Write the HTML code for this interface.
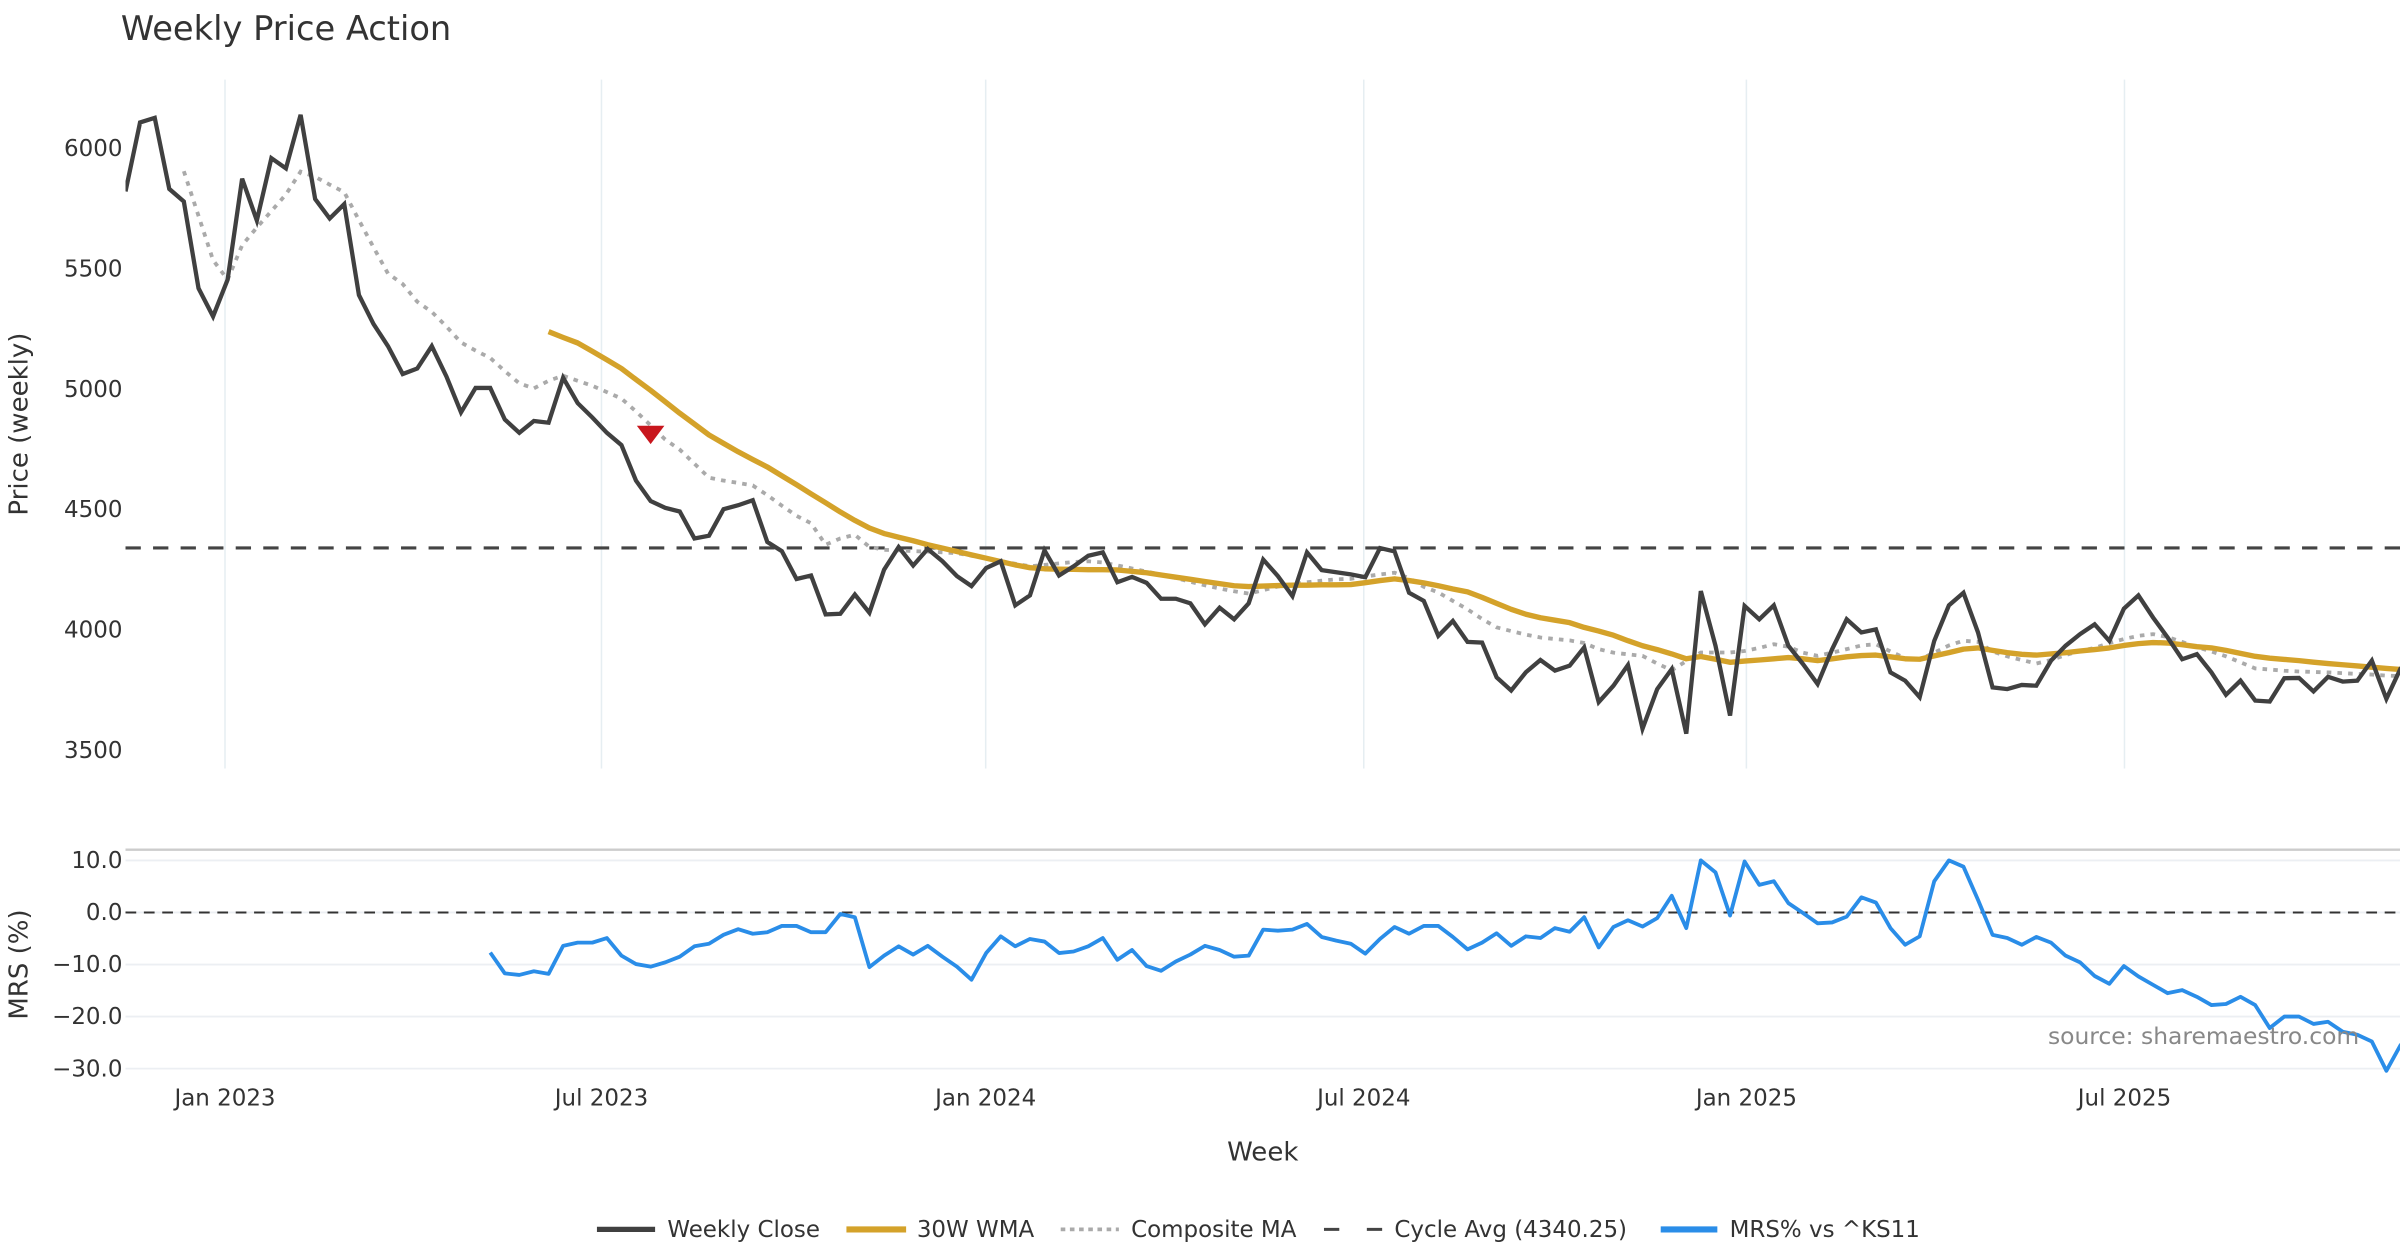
<!DOCTYPE html>
<html><head><meta charset="utf-8"><title>Weekly Price Action</title>
<style>
html,body{margin:0;padding:0;background:#fff;}
svg{display:block;font-family:"DejaVu Sans","Liberation Sans",sans-serif;}
</style></head>
<body>
<svg id="chart" width="2400" height="1260" viewBox="0 0 1568 823" preserveAspectRatio="none" xmlns="http://www.w3.org/2000/svg">
<defs>
<clipPath id="clipTop"><rect x="82" y="40" width="1486" height="470"/></clipPath>
<clipPath id="clipBot"><rect x="82" y="550" width="1486" height="160"/></clipPath>
</defs>
<text x="79" y="26" font-size="22" fill="#333">Weekly Price Action</text>
<g id="gridTop"></g>
<g id="gridBot"></g>
<line x1="82" y1="555" x2="1568" y2="555" stroke="#cccccc" stroke-width="1.5"/>
<g id="axesTop"></g>
<g id="axesBot"></g>
<g id="xAxis"></g>
<g id="series" clip-path="url(#clipTop)"></g>
<g id="seriesBot" clip-path="url(#clipBot)"></g>
<text transform="translate(18,277) rotate(-90)" text-anchor="middle" font-size="17" fill="#333">Price (weekly)</text>
<text transform="translate(18,630) rotate(-90)" text-anchor="middle" font-size="17" fill="#333">MRS (%)</text>
<text x="825" y="758" text-anchor="middle" font-size="17" fill="#333">Week</text>
<text x="1338" y="682" font-size="15.3" fill="#888">source: sharemaestro.com</text>
<g id="legend">
  <g>
    <line x1="390" y1="803" x2="428" y2="803" stroke="#404040" stroke-width="3.5"/>
    <text x="436" y="808" font-size="15" fill="#333">Weekly Close</text>
  </g>
  <g>
    <line x1="553" y1="803" x2="592" y2="803" stroke="#D4A22A" stroke-width="4"/>
    <text x="599" y="808" font-size="15" fill="#333">30W WMA</text>
  </g>
  <g>
    <line x1="693" y1="803" x2="731" y2="803" stroke="#aaaaaa" stroke-width="2.5" stroke-dasharray="3 3"/>
    <text x="739" y="808" font-size="15" fill="#333">Composite MA</text>
  </g>
  <g>
    <line x1="865" y1="803" x2="903" y2="803" stroke="#444" stroke-width="2" stroke-dasharray="10 18"/>
    <text x="911" y="808" font-size="15" fill="#333">Cycle Avg (4340.25)</text>
  </g>
  <g>
    <line x1="1085" y1="803" x2="1122" y2="803" stroke="#2A8DE8" stroke-width="4"/>
    <text x="1130" y="808" font-size="15" fill="#333">MRS% vs ^KS11</text>
  </g>
</g>
</svg>
<script>
const NS = "http://www.w3.org/2000/svg";
const closeValues = [5822,6108,6127,5832,5780,5419,5302,5455,5875,5701,5960,5917,6140,5790,5709,5769,5391,5271,5179,5063,5086,5179,5052,4904,5005,5005,4874,4819,4868,4861,5048,4942,4882,4819,4768,4620,4535,4507,4492,4380,4391,4501,4518,4539,4365,4327,4211,
4226,4064,4067,4147,4071,4250,4344,4267,4336,4285,4223,4182,4257,4285,4102,4143,4330,4226,4264,4308,4322,4198,4220,4195,4129,4129,4110,4023,4092,4044,4110,4292,4223,4140,4322,4248,4239,4230,4219,4340,4326,4154,4120,3975,4037,3950,3947,3803,3748,3824,3875,3831,3851,3927,
3700,3768,3854,3589,3754,3837,3569,4161,3934,3644,4099,4044,4102,3934,3858,3775,3920,4044,3989,4002,3823,3789,3720,3954,4102,4154,3989,3761,3754,3771,3768,3872,3934,3982,4023,3954,4088,4143,4051,3968,3878,3899,3823,3730,3789,3706,3702,3799,3800,3744,3805,3785,3789,3872,3713,3844];
const wmaStart = 29;
const wmaValues = [5239,5215,5192,5157,5122,5086,5040,4995,4948,4900,4855,4810,4775,4740,4708,4677,4640,4603,4565,4528,4490,4455,4423,4400,4385,4370,4354,4340,4326,4312,4298,4284,4270,4258,4254,4252,4251,4250,4250,4249,4243,4237,4228,4219,4210,4201,4192,4183,4180,4182,4184,4186,4186,4187,4187,4188,4196,4205,4212,4205,4195,4183,4170,4158,4135,4110,4085,4065,4050,4040,4030,4010,3995,3978,3955,3934,3918,3900,3880,3889,3878,3865,3870,3875,3880,3885,3880,3872,3880,3888,3893,3895,3888,3880,3878,3892,3905,3920,3925,3915,3905,3898,3895,3900,3905,3912,3918,3925,3935,3943,3947,3945,3938,3930,3925,3915,3902,3890,3882,3877,3872,3866,3860,3855,3850,3845,3840,3835];
const compStart = 4;
const compValues = [5906,5720,5536,5455,5598,5672,5740,5809,5904,5882,5850,5819,5702,5590,5480,5437,5363,5321,5260,5194,5160,5130,5075,5024,5003,5035,5056,5035,5014,4988,4961,4908,4850,4791,4749,4690,4632,4620,4611,4600,4560,4516,4474,4443,4354,4380,4395,4345,4333,4330,4327,4325,4322,4319,4308,4297,4286,4275,4264,4270,4276,4282,4285,4280,4268,4255,4242,4230,4215,4200,4185,4172,4160,4151,4165,4180,4190,4198,4204,4210,4212,4222,4230,4237,4215,4179,4155,4120,4085,4045,4010,3995,3980,3968,3962,3956,3945,3920,3905,3898,3892,3860,3832,3870,3906,3906,3906,3912,3925,3940,3930,3905,3892,3905,3920,3935,3940,3910,3882,3878,3905,3935,3955,3950,3910,3890,3875,3860,3875,3895,3912,3925,3945,3962,3975,3982,3970,3950,3928,3910,3890,3865,3840,3835,3830,3827,3825,3823,3820,3817,3814,3810,3808];
const mrsStart = 25;
const mrsValues = [-7.7,-11.7,-12.0,-11.3,-11.8,-6.4,-5.8,-5.8,-4.9,-8.3,-9.9,-10.4,-9.6,-8.5,-6.5,-6.0,-4.3,-3.2,-4.1,-3.8,-2.6,-2.6,-3.8,-3.8,-0.3,-0.9,-10.5,-8.3,-6.5,-8.1,-6.4,-8.5,-10.4,-12.9,-7.8,-4.6,-6.5,-5.1,-5.6,-7.8,-7.5,-6.5,-4.9,-9.1,-7.2,-10.3,-11.2,-9.4,-8.1,-6.4,-7.2,-8.5,-8.3,-3.3,-3.5,-3.3,-2.2,-4.7,-5.4,-6.0,-7.9,-5.1,-2.8,-4.1,-2.6,-2.6,-4.7,-7.1,-5.8,-4.0,-6.4,-4.6,-4.9,-3.0,-3.7,-0.9,-6.7,-2.8,-1.5,-2.7,-1.1,3.2,-3.0,10.0,7.7,-0.6,9.8,5.3,6.0,1.8,-0.1,-2.1,-1.9,-0.8,2.9,1.9,-3.0,-6.2,-4.6,6.0,10.0,8.8,2.4,-4.3,-4.9,-6.2,-4.7,-5.8,-8.3,-9.6,-12.2,-13.7,-10.3,-12.3,-13.9,-15.5,-14.9,-16.2,-17.8,-17.6,-16.2,-17.8,-22.2,-20.0,-20.0,-21.4,-21.0,-22.9,-23.5,-24.8,-30.4,-25.3];
const cycleAvg = 4340.25;
const signalIndex = 36;
const signalPrice = 4810;
const priceTicks = [3500,4000,4500,5000,5500,6000];
const mrsTicks = [10,0,-10,-20,-30];
const mrsTickLabels = ["10.0","0.0","\u221210.0","\u221220.0","\u221230.0"];
const dateTickIdx = [6.82,32.63,58.97,84.89,111.12,137.04];
const dateTickLabels = ["Jan 2023","Jul 2023","Jan 2024","Jul 2024","Jan 2025","Jul 2025"];

const X0 = 82, DX = 9.53;
function xScale(i){ return X0 + i*DX; }
function yPrice(v){ return 97 + (6000 - v) * (393/2500); }
function yMrs(v){ return 596 - v * 3.4; }

function mk(tag, attrs, parent){
  const el = document.createElementNS(NS, tag);
  for (const k in attrs) el.setAttribute(k, attrs[k]);
  parent.appendChild(el);
  return el;
}
function pathFrom(vals, start, yf){
  return vals.map((v,k)=> (k?"L":"M") + xScale(start+k).toFixed(1) + "," + yf(v).toFixed(1)).join(" ");
}

const gridTop = document.getElementById("gridTop");
const gridBot = document.getElementById("gridBot");
const axesTop = document.getElementById("axesTop");
const axesBot = document.getElementById("axesBot");
const xAxis = document.getElementById("xAxis");
const series = document.getElementById("series");
const seriesBot = document.getElementById("seriesBot");

dateTickIdx.forEach((ti, k) => {
  const x = xScale(ti);
  const g = mk("line", {x1:x, y1:52, x2:x, y2:502, stroke:"#e6eef2", "stroke-width":1}, gridTop);
  
  
  const t = mk("text", {x:x, y:722, "text-anchor":"middle", "font-size":15, fill:"#333"}, xAxis);
  t.textContent = dateTickLabels[k];
  
  
});

priceTicks.forEach(v => {
  const t = mk("text", {x:80, y:yPrice(v)+5, "text-anchor":"end", "font-size":15, fill:"#333"}, axesTop);
  t.textContent = String(v);
  
  
});

mrsTicks.forEach((v, k) => {
  const y = yMrs(v);
  const gl = mk("line", {x1:82, y1:y, x2:1568, y2:y, stroke:"#eceff3", "stroke-width":1.2}, gridBot);
  
  
  const t = mk("text", {x:80, y:y+5, "text-anchor":"end", "font-size":15, fill:"#333"}, axesBot);
  t.textContent = mrsTickLabels[k];
  
  
});

const cyc = mk("line", {x1:82, y1:yPrice(cycleAvg), x2:1568, y2:yPrice(cycleAvg), stroke:"#444", "stroke-width":2, "stroke-dasharray":"10 8"}, series);



const comp = mk("path", {d:pathFrom(compValues, compStart, yPrice), fill:"none", stroke:"#aaaaaa", "stroke-width":2.5, "stroke-dasharray":"3 4"}, series);



const wma = mk("path", {d:pathFrom(wmaValues, wmaStart, yPrice), fill:"none", stroke:"#D4A22A", "stroke-width":3.5, "stroke-linejoin":"round"}, series);



const cl = mk("path", {d:pathFrom(closeValues, 0, yPrice), fill:"none", stroke:"#404040", "stroke-width":2.8, "stroke-linejoin":"miter"}, series);



const sx = xScale(signalIndex), sy = yPrice(signalPrice);
const tri = mk("path", {d:`M${sx-9},${sy-6} L${sx+9},${sy-6} L${sx},${sy+6} Z`, fill:"#C8161D"}, series);



const zero = mk("line", {x1:82, y1:yMrs(0), x2:1568, y2:yMrs(0), stroke:"#333", "stroke-width":1.3, "stroke-dasharray":"7 5"}, seriesBot);



const mrs = mk("path", {d:pathFrom(mrsValues, mrsStart, yMrs), fill:"none", stroke:"#2A8DE8", "stroke-width":2.5, "stroke-linejoin":"round"}, seriesBot);


</script>
</body></html>
